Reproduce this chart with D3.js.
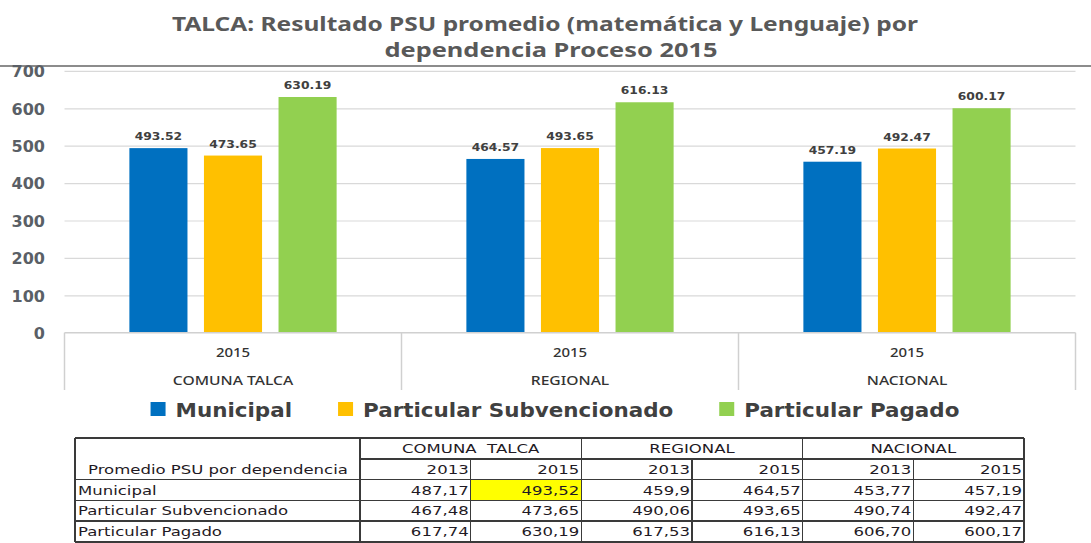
<!DOCTYPE html>
<html>
<head>
<meta charset="utf-8">
<script src="https://cdn.jsdelivr.net/npm/d3@7"></script>
<style>
  html, body { margin: 0; padding: 0; background: #fff; }
  svg { display: block; }
</style>
</head>
<body>
<svg id="chart" width="1091" height="543"></svg>
<script>
// ---------------- DATA ----------------
const titleLines = ["TALCA: Resultado PSU promedio (matemática y Lenguaje) por", "dependencia Proceso 2015"];
const categories = ["COMUNA TALCA", "REGIONAL", "NACIONAL"];
const yearLabel = "2015";
const series = ["Municipal", "Particular Subvencionado", "Particular Pagado"];
const municipal = [493.52, 464.57, 457.19];
const subvencionado = [473.65, 493.65, 492.47];
const pagado = [630.19, 616.13, 600.17];
const yTicks = [0, 100, 200, 300, 400, 500, 600, 700];
const colors = ["#0070c0", "#ffc000", "#92d050"];

// table data
const tableTitle = "Promedio PSU por dependencia";
const tableRegions = ["COMUNA  TALCA", "REGIONAL", "NACIONAL"];
const tableYears = ["2013", "2015"];
const tableRowNames = ["Municipal", "Particular Subvencionado", "Particular Pagado"];
const tableMunicipal = ["487,17", "493,52", "459,9", "464,57", "453,77", "457,19"];
const tableSubvencionado = ["467,48", "473,65", "490,06", "493,65", "490,74", "492,47"];
const tablePagado = ["617,74", "630,19", "617,53", "616,13", "606,70", "600,17"];
const highlightCell = { row: 0, col: 1 };

// ---------------- HELPERS ----------------
function stretch(sel, k) {
  sel.each(function () {
    const w = this.getComputedTextLength();
    d3.select(this).attr("textLength", w * k).attr("lengthAdjust", "spacingAndGlyphs");
  });
}
function fitTo(sel, w) {
  sel.attr("textLength", w).attr("lengthAdjust", "spacingAndGlyphs");
}

const svg = d3.select("#chart");

// ---------------- TITLE ----------------
const titleFont = "'Noto Sans', 'Open Sans', sans-serif";
const titleWidths = [746, 333];
svg.selectAll("text.title").data(titleLines).join("text")
  .attr("class", "title")
  .attr("x", (d, i) => i === 0 ? 545 : 551)
  .attr("y", (d, i) => 31 + i * 26)
  .attr("text-anchor", "middle")
  .attr("font-family", titleFont)
  .attr("font-weight", "bold")
  .attr("font-size", 19)
  .attr("fill", "#595959")
  .text(d => d)
  .each(function (d, i) { fitTo(d3.select(this), titleWidths[i]); });

// top separator line
svg.append("line")
  .attr("x1", 0).attr("x2", 1091).attr("y1", 66).attr("y2", 66)
  .attr("stroke", "#8c8c8c").attr("stroke-width", 2);

// ---------------- SCALES ----------------
const plotLeft = 64.5, plotRight = 1075.5;
const y = d3.scaleLinear().domain([0, 700]).range([332.7, 70.9]);
const x0 = d3.scaleBand().domain(categories).range([plotLeft, plotRight]).padding(0);
const x1 = d3.scaleBand().domain(series).range([0, x0.bandwidth()])
  .paddingInner(0.221).paddingOuter(0.87);

// ---------------- GRID ----------------
const grid = svg.append("g")
  .attr("transform", `translate(${plotRight},0)`)
  .call(d3.axisLeft(y).tickValues(yTicks.filter(t => t > 0)).tickSize(plotRight - plotLeft).tickFormat(""));
grid.select(".domain").remove();
grid.selectAll(".tick line").attr("stroke", "#d9d9d9").attr("stroke-width", 1.2);

// ---------------- Y AXIS ----------------
const yAxis = svg.append("g")
  .attr("transform", "translate(45,0)")
  .call(d3.axisLeft(y).tickValues(yTicks).tickSize(0).tickPadding(0));
yAxis.select(".domain").remove();
yAxis.selectAll(".tick text")
  .attr("font-family", "'DejaVu Sans', Verdana, sans-serif")
  .attr("font-weight", "bold")
  .attr("font-size", 16)
  .attr("fill", "#5a5f66")
  .attr("dy", "0.36em");

// ---------------- BARS ----------------
const seriesValues = [municipal, subvencionado, pagado];
const barData = [];
categories.forEach((c, ci) => {
  series.forEach((s, si) => {
    barData.push({ cat: c, ser: s, si: si, value: seriesValues[si][ci] });
  });
});

svg.append("g").selectAll("rect").data(barData).join("rect")
  .attr("x", d => x0(d.cat) + x1(d.ser))
  .attr("y", d => y(d.value))
  .attr("width", x1.bandwidth())
  .attr("height", d => y(0) - y(d.value))
  .attr("fill", d => colors[d.si]);

const fmt = d3.format(".2f");
svg.append("g").selectAll("text").data(barData).join("text")
  .attr("x", d => x0(d.cat) + x1(d.ser) + x1.bandwidth() / 2)
  .attr("y", d => y(d.value) - 8)
  .attr("text-anchor", "middle")
  .attr("font-family", "'DejaVu Sans', Verdana, sans-serif")
  .attr("font-weight", "bold")
  .attr("font-size", 11)
  .attr("fill", "#404040")
  .text(d => fmt(d.value))
  .call(stretch, 1.12);

// ---------------- CATEGORY AXIS ----------------
const axisG = svg.append("g");
axisG.append("line")
  .attr("x1", plotLeft).attr("x2", plotRight).attr("y1", y(0)).attr("y2", y(0))
  .attr("stroke", "#d0d0d0").attr("stroke-width", 1.5);
const boundaries = categories.map(c => x0(c)).concat([plotRight]);
axisG.selectAll("line.div").data(boundaries).join("line")
  .attr("class", "div")
  .attr("x1", d => d).attr("x2", d => d)
  .attr("y1", y(0)).attr("y2", 390)
  .attr("stroke", "#d0d0d0").attr("stroke-width", 1.5);

const catFont = "'Noto Sans', 'Open Sans', sans-serif";
axisG.selectAll("text.year").data(categories).join("text")
  .attr("class", "year")
  .attr("x", d => x0(d) + x0.bandwidth() / 2)
  .attr("y", 357)
  .attr("text-anchor", "middle")
  .attr("font-family", catFont)
  .attr("font-weight", 500)
  .attr("font-size", 13)
  .attr("fill", "#333333")
  .text(yearLabel)
  .call(stretch, 1.15);
axisG.selectAll("text.cat").data(categories).join("text")
  .attr("class", "cat")
  .attr("x", d => x0(d) + x0.bandwidth() / 2)
  .attr("y", 385)
  .attr("text-anchor", "middle")
  .attr("font-family", catFont)
  .attr("font-weight", 500)
  .attr("font-size", 12.5)
  .attr("fill", "#333333")
  .text(d => d)
  .call(stretch, 1.25);

// ---------------- LEGEND ----------------
const legend = svg.append("g");
const legItems = legend.selectAll("g").data(series).join("g");
legItems.append("rect")
  .attr("width", 15).attr("height", 14)
  .attr("y", 402)
  .attr("fill", (d, i) => colors[i]);
legItems.append("text")
  .attr("y", 416.5)
  .attr("font-family", "'DejaVu Sans', Verdana, sans-serif")
  .attr("font-weight", "bold")
  .attr("font-size", 19.5)
  .attr("fill", "#404040")
  .text(d => d)
  .call(stretch, 1.1);
// layout legend
const legGap = 46, legPad = 10;
let lx = 0;
const itemPos = [];
legItems.each(function () {
  const t = d3.select(this).select("text").node();
  const w = +t.getAttribute("textLength");
  itemPos.push(lx);
  lx += 15 + legPad + w + legGap;
});
const totalW = lx - legGap;
const legStart = 555 - totalW / 2;
legItems.each(function (d, i) {
  const g = d3.select(this);
  g.select("rect").attr("x", legStart + itemPos[i]);
  g.select("text").attr("x", legStart + itemPos[i] + 15 + legPad);
});

// ---------------- TABLE ----------------
const tLeft = 75, tFirstColRight = 360, tRight = 1024;
const tTop = 438, tBottom = 542;
const colKeys = d3.range(6);
const xc = d3.scaleBand().domain(colKeys).range([tFirstColRight, tRight]);
const rowKeys = d3.range(5);
const yr = d3.scaleBand().domain(rowKeys).range([tTop, tBottom]);
const tableRows = [tableMunicipal, tableSubvencionado, tablePagado];
const tFont = "'DejaVu Sans', Verdana, sans-serif";
const tColor = "#1f1a24";
const tK = 1.27;

const tbl = svg.append("g");
// highlight
tbl.append("rect")
  .attr("x", xc(highlightCell.col)).attr("y", yr(highlightCell.row + 2))
  .attr("width", xc.bandwidth()).attr("height", yr.bandwidth())
  .attr("fill", "#ffff00");

const lineStyle = s => s.attr("stroke", "#3a3a3a").attr("stroke-width", 1.6)
  .attr("shape-rendering", "crispEdges");
const lines = [];
// outer
lines.push([tLeft, tTop, tRight, tTop]);
lines.push([tLeft, tBottom, tRight, tBottom]);
lines.push([tLeft, tTop, tLeft, tBottom]);
lines.push([tRight, tTop, tRight, tBottom]);
lines.push([tFirstColRight, tTop, tFirstColRight, tBottom]);
// region dividers
[2, 4].forEach(c => lines.push([xc(c), tTop, xc(c), tBottom]));
// sub dividers
[1, 3, 5].forEach(c => lines.push([xc(c), yr(1), xc(c), tBottom]));
// horizontals
lines.push([tFirstColRight, yr(1), tRight, yr(1)]);
[2, 3, 4].forEach(r => lines.push([tLeft, yr(r), tRight, yr(r)]));
tbl.selectAll("line").data(lines).join("line")
  .attr("x1", d => d[0]).attr("y1", d => d[1]).attr("x2", d => d[2]).attr("y2", d => d[3])
  .call(lineStyle);

const rowMid = r => yr(r) + yr.bandwidth() / 2 + 4.5;
// region headers
tbl.selectAll("text.reg").data(tableRegions).join("text")
  .attr("class", "reg")
  .attr("x", (d, i) => (xc(i * 2) + xc(i * 2 + 1) + xc.bandwidth()) / 2)
  .attr("y", rowMid(0))
  .attr("text-anchor", "middle")
  .attr("xml:space", "preserve")
  .style("white-space", "pre")
  .attr("font-family", tFont).attr("font-size", 13).attr("fill", tColor)
  .text(d => d)
  .call(stretch, tK);
// years
tbl.selectAll("text.yr").data(colKeys).join("text")
  .attr("class", "yr")
  .attr("x", c => xc(c) + xc.bandwidth() - 2)
  .attr("y", rowMid(1))
  .attr("text-anchor", "end")
  .attr("font-family", tFont).attr("font-size", 13).attr("fill", tColor)
  .text(c => tableYears[c % 2])
  .call(stretch, tK);
// title cell
tbl.append("text")
  .attr("x", 88).attr("y", rowMid(1))
  .attr("font-family", tFont).attr("font-size", 13).attr("fill", tColor)
  .text(tableTitle)
  .call(stretch, tK);
// row names
tbl.selectAll("text.rn").data(tableRowNames).join("text")
  .attr("class", "rn")
  .attr("x", 78).attr("y", (d, i) => rowMid(i + 2))
  .attr("font-family", tFont).attr("font-size", 13).attr("fill", tColor)
  .text(d => d)
  .call(stretch, tK);
// values
tableRows.forEach((row, ri) => {
  tbl.selectAll(`text.v${ri}`).data(row).join("text")
    .attr("class", `v${ri}`)
    .attr("x", (d, c) => xc(c) + xc.bandwidth() - 2)
    .attr("y", rowMid(ri + 2))
    .attr("text-anchor", "end")
    .attr("font-family", tFont).attr("font-size", 13).attr("fill", tColor)
    .text(d => d)
    .call(stretch, tK);
});
</script>
</body>
</html>
